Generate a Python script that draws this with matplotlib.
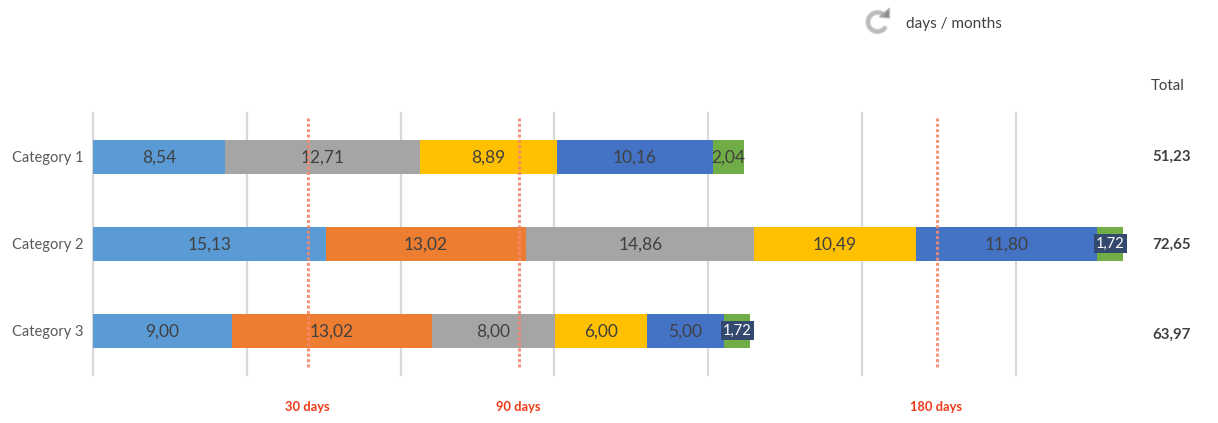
import numpy as np
import matplotlib
matplotlib.use("Agg")
import matplotlib.pyplot as plt
from matplotlib.patches import Polygon
from matplotlib.transforms import ScaledTranslation

categories = ["Category 1", "Category 2", "Category 3"]
series_a = [8.54, 15.13, 9.00]
series_b = [0.0, 13.02, 13.02]
series_c = [12.71, 14.86, 8.00]
series_d = [8.89, 10.49, 6.00]
series_e = [10.16, 11.80, 5.00]
series_f = [2.04, 1.72, 1.72]
totals = [51.23, 72.65, 63.97]
ref_days = [13.93, 27.66, 54.88]
ref_labels = ["30 days", "90 days", "180 days"]
grid_ticks = [0, 10, 20, 30, 40, 50, 60]
colors = ["#5B9BD5", "#ED7D31", "#A5A5A5", "#FFC000", "#4472C4", "#70AD47"]

plt.rcParams['font.family'] = ['Lato', 'DejaVu Sans']
W, H = 1218, 423
fig = plt.figure(figsize=(W / 100, H / 100), dpi=100)
left, right, top, bottom = 93.4, 1218, 113.5, 374.5
ax = fig.add_axes([left / W, 1 - bottom / H, (right - left) / W, (bottom - top) / H])
ax.set_xlim(0, (right - left) / 15.37)
ax.set_ylim(2.5, -0.5)
ax.set_axisbelow(True)
ax.set_xticks(grid_ticks)
ax.grid(axis='x', color='#D9D9D9', linewidth=1.6, clip_on=False)
ax.tick_params(axis='both', length=0)
ax.set_xticklabels([])
y = np.arange(len(categories))
ax.set_yticks(y)
ax.set_yticklabels(categories, fontsize=10.5, color='#595959')
ax.tick_params(axis='y', pad=6.8)
up = ScaledTranslation(0, 0.8 / 100, fig.dpi_scale_trans)
for lab in ax.get_yticklabels():
    lab.set_transform(lab.get_transform() + up)
for s in ax.spines.values():
    s.set_visible(False)

TXT = '#404040'
px = 1 / 87.0
lefts = np.zeros(3)
for idx, (vals, c) in enumerate(zip([series_a, series_b, series_c, series_d, series_e, series_f], colors)):
    vals = np.array(vals)
    ax.barh(y, vals, left=lefts, height=0.40, color=c, zorder=2)
    for i, v in enumerate(vals):
        if v == 0:
            continue
        label = f"{v:.2f}".replace('.', ',')
        cx = lefts[i] + v / 2
        if idx == 5 and v == 1.72:
            ax.text(cx, y[i] - 0.5 * px, label, ha='center', va='center', fontsize=10.5, color='white', zorder=6,
                    bbox=dict(boxstyle='square,pad=0.14', fc='#34496E', ec='none'))
        else:
            ax.text(cx, y[i] + 1 * px, label, ha='center', va='center', fontsize=12.5, color=TXT, zorder=4)
    lefts = lefts + vals

for d, lab in zip(ref_days, ref_labels):
    ax.axvline(d, ymin=(bottom - 367) / (bottom - top), ymax=(bottom - 118) / (bottom - top),
               color='#F4896F', alpha=0.9, linewidth=2.2, linestyle=(0, (1.0, 0.75)), zorder=5)
    ax.text(d - 0.03, 2.5 + (407 - bottom) * px, lab, ha='center', va='center', fontsize=9.3, fontweight='bold',
            color='#F03A17', clip_on=False)

total_ypx = [156.5, 245.0, 334.5]
for t, yp in zip(totals, total_ypx):
    fig.text(1172 / W, 1 - yp / H, f"{t:.2f}".replace('.', ','), ha='center', va='center',
             fontsize=10.8, fontweight='bold', color=TXT)
fig.text(1167.5 / W, 1 - 85.5 / H, "Total", ha='center', va='center', fontsize=10.8, color=TXT)
fig.text(954 / W, 1 - 24 / H, "days / months", ha='center', va='center', fontsize=11, color=TXT)

# refresh icon
th = np.radians(np.linspace(50, 320, 60))
ix = 877.5 + 9.5 * np.cos(th)
iy = 22 + 9.5 * np.sin(-th)
for lw, a in [(4.2, 0.25), (2.8, 0.6)]:
    fig.add_artist(plt.Line2D(ix / W, 1 - iy / H, color='#A0A0A0', linewidth=lw, alpha=a, solid_capstyle='round'))
tri = np.array([[879.5, 17], [889.5, 8], [889.5, 18]], dtype=float)
fig.add_artist(Polygon(np.c_[tri[:, 0] / W, 1 - tri[:, 1] / H], closed=True, transform=fig.transFigure,
                       fc='#8C8C8C', ec='#BDBDBD', lw=1))
fig.savefig("out.png", dpi=100)
